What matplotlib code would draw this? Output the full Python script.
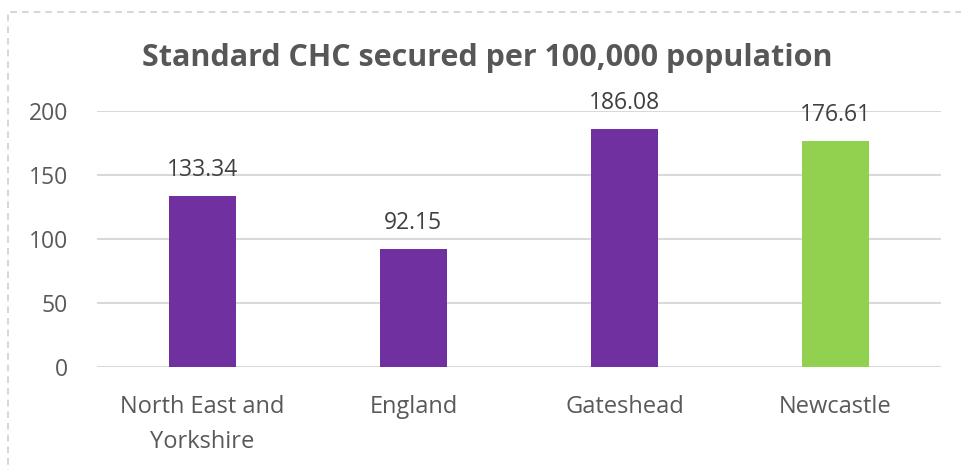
import matplotlib
matplotlib.use('Agg')
import matplotlib.pyplot as plt
from matplotlib.patches import Rectangle

categories = ['North East and\nYorkshire', 'England', 'Gateshead', 'Newcastle']
values = [133.34, 92.15, 186.08, 176.61]
labels = ['133.34', '92.15', '186.08', '176.61']
colors = ['#7030A0', '#7030A0', '#7030A0', '#92D050']
yticks = [0, 50, 100, 150, 200]

plt.rcParams['font.family'] = ['Open Sans', 'DejaVu Sans']

fig = plt.figure(figsize=(9.62, 4.70), dpi=100)
ax = fig.add_axes([0.1008, 0.219, 0.8772, 0.545])

x = range(len(categories))
ax.bar(x, values, width=0.32, color=colors, zorder=3)
for xi, v, lab in zip(x, values, labels):
    ax.text(xi, v + 11, lab, ha='center', va='bottom', fontsize=16.5, color='#404040')

ax.set_xlim(-0.5, 3.5)
ax.set_ylim(0, 200)
ax.set_yticks(yticks)
ax.set_yticklabels([str(t) for t in yticks], fontsize=16.5, color='#595959')
ax.set_xticks(list(x))
ax.set_xticklabels(categories, fontsize=17, color='#595959', linespacing=1.6)
ax.tick_params(axis='both', length=0)
ax.tick_params(axis='y', pad=21)
ax.tick_params(axis='x', pad=20)
ax.grid(axis='y', color='#D9D9D9', linewidth=1.5, zorder=0)
ax.set_axisbelow(True)
for s in ax.spines.values():
    s.set_visible(False)

fig.text(0.507, 0.877, 'Standard CHC secured per 100,000 population',
         ha='center', va='center', fontsize=22, fontweight='bold', color='#575757')

# dashed frame, only left and top edges inside the image
fig.patches.append(Rectangle((8 / 962, -0.1), 1.2, 1 - 12 / 470 + 0.1,
                             transform=fig.transFigure, fill=False,
                             edgecolor='#D0D0D0', linestyle=(0, (4, 3)), linewidth=1.2))

plt.savefig('out.png', dpi=100)
